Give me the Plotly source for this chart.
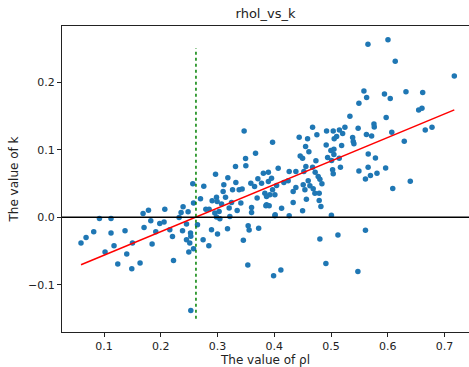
import plotly.graph_objects as go

rhol = [0.0594,0.0683,0.0818,0.0919,0.1123,0.1123,0.1018,0.1176,0.1242,0.1370,0.1400,0.1501,0.1489,0.1635,
0.1688,0.1783,0.1705,0.1824,0.1847,0.1912,0.1982,0.2058,0.2071,0.2159,0.2206,0.2224,0.2323,0.2358,0.2393,
0.2481,0.2383,0.2453,0.2453,0.2524,0.2529,0.2511,0.2494,0.2577,0.2564,0.2577,0.2529,0.2647,0.2700,0.2758,
0.2746,0.2794,0.2852,0.2894,0.2847,0.2905,0.2965,0.2982,0.2993,0.2952,0.2982,0.3028,0.3041,0.3000,0.3071,
0.3099,0.3111,0.3141,0.3176,0.3182,0.3205,0.3217,0.3247,0.3265,0.3317,0.3323,0.3346,0.3381,0.3434,0.3455,
0.3494,0.3499,0.3540,0.3557,0.3587,0.3600,0.3600,0.3653,0.3670,0.3698,0.3725,0.3776,0.3808,0.3834,0.3864,
0.3896,0.3896,0.3411,0.3469,0.3711,0.3534,0.3970,0.4675,0.4439,0.4587,0.4751,0.4922,0.5039,0.5148,0.5056,
0.4915,0.4552,0.4610,0.4499,0.4457,0.4998,0.5051,0.4940,0.4734,0.4557,0.4522,0.4675,0.4721,0.4774,0.4804,
0.4840,0.5028,0.5039,0.4381,0.4263,0.4069,0.3952,0.4169,0.4245,0.4041,0.3970,0.3922,0.4011,0.3864,0.4381,
0.4333,0.4510,0.4540,0.4598,0.4628,0.4686,0.4716,0.4792,0.4792,0.4822,0.4566,0.4333,0.4499,0.4129,0.3852,
0.3910,0.4011,0.4263,0.5007,0.5580,0.5628,0.5492,0.5942,0.6044,0.6321,0.5333,0.5972,0.5245,0.5478,0.5757,
0.5762,0.5205,0.5099,0.5381,0.5392,0.5404,0.5624,0.5716,0.6071,0.6291,0.5187,0.5051,0.5656,0.5783,0.5145,
0.5011,0.5166,0.5492,0.5654,0.5963,0.5810,0.5695,0.5607,0.6397,0.6088,0.5607,0.7173,0.5651,0.6004,0.6132,
0.6616,0.6545,0.6603,0.6661,0.6780,0.4804,0.5122,0.4910,0.5474,0.3988,0.4116,0.4016]

k = [-0.0381,-0.0298,-0.0214,-0.0018,-0.0018,-0.0233,-0.0514,-0.0421,-0.0691,-0.0199,-0.0544,-0.0381,-0.0761,-0.0677,
0.0056,0.0106,-0.0151,-0.0052,-0.0396,-0.0214,-0.0092,-0.0071,0.0121,-0.0185,-0.0284,-0.0638,-0.0003,0.0071,0.0155,
0.0081,-0.0199,-0.0100,-0.0332,-0.0233,-0.0281,-0.0381,-0.0514,-0.0465,0.0495,0.0210,-0.1377,-0.0111,0.0273,0.0461,
-0.0332,0.0121,0.0121,-0.0185,-0.0421,0.0244,0.0635,0.0298,0.0233,0.0062,0.0003,0.0086,-0.0022,-0.0248,0.0195,
0.0381,0.0480,0.0298,-0.0170,0.0586,0.0136,0.0012,0.0219,0.0406,0.0750,0.0514,0.0100,0.0406,0.0417,-0.0340,
0.0871,0.0761,-0.0126,-0.0189,0.0505,0.0145,0.0071,0.0455,0.0948,0.0284,-0.0162,0.0505,0.0653,0.0357,0.0185,
0.0529,0.0665,0.0210,0.1278,0.0569,-0.0706,0.1111,0.1332,0.1185,0.1160,0.1222,0.1278,0.1278,0.1292,0.1160,
0.1071,0.1046,0.0968,0.0874,0.0908,0.0987,0.0928,0.0883,0.0835,0.0750,0.0677,0.0742,0.0668,0.0603,0.0564,
0.0495,0.0702,0.0643,0.0677,0.0677,0.0727,0.0579,0.0514,0.0539,0.0470,0.0406,0.0332,0.0332,0.0307,0.0440,
0.0381,0.0480,0.0406,0.0539,0.0465,0.0421,0.0357,0.0357,0.0248,0.0160,0.0266,0.0219,0.0096,0.0133,0.0170,
0.0170,0.0022,0.0022,0.0030,0.1869,0.1773,0.1687,0.1824,0.1758,0.1858,0.1495,0.1477,0.1332,0.1318,0.1378,
0.1337,0.1241,0.1194,0.1179,0.1120,0.1086,0.1223,0.1204,0.1256,0.1123,0.1061,0.1007,0.0938,0.0876,0.0874,
0.0839,0.0739,0.0684,0.0742,0.0731,0.0653,0.0617,0.0566,0.0535,0.0425,-0.0192,0.2090,0.2558,0.2626,0.2307,
0.1846,0.1588,0.1613,0.1292,0.1332,-0.0322,-0.0263,-0.0682,-0.0801,-0.0864,-0.0780,0.0037]

fit_slope = 0.348
fit_intercept = -0.0908
rhol_threshold = 0.262
threshold_k_span = [-0.15, 0.25]

fit_x = [min(rhol), max(rhol)]
fit_y = [fit_slope * v + fit_intercept for v in fit_x]

fig = go.Figure()
fig.add_trace(go.Scatter(x=rhol, y=k, mode="markers",
                         marker=dict(color="#1f77b4", size=5.5, line=dict(width=0)),
                         showlegend=False, hoverinfo="skip"))
fig.add_trace(go.Scatter(x=fit_x, y=fit_y, mode="lines",
                         line=dict(color="red", width=1.5), showlegend=False))
fig.add_trace(go.Scatter(x=[rhol_threshold, rhol_threshold], y=threshold_k_span, mode="lines",
                         line=dict(color="green", width=1.5, dash="dot"), showlegend=False))
fig.add_shape(type="line", xref="paper", x0=0, x1=1, yref="y", y0=0, y1=0,
              line=dict(color="black", width=1.5), layer="above")

axis_common = dict(showgrid=False, zeroline=False, ticks="outside", ticklen=4,
                   tickcolor="#222", linecolor="#222", linewidth=1,
                   tickfont=dict(size=11, color="#222"))
fig.update_xaxes(range=[0.0259, 0.7432], tickvals=[0.1, 0.2, 0.3, 0.4, 0.5, 0.6, 0.7],
                 ticktext=["0.1", "0.2", "0.3", "0.4", "0.5", "0.6", "0.7"],
                 showline=True, mirror=True,
                 title=dict(text="The value of ρl", font=dict(size=12, color="#222"), standoff=4),
                 **axis_common)
fig.update_yaxes(range=[-0.1696, 0.2829], tickvals=[-0.1, 0.0, 0.1, 0.2],
                 ticktext=["−0.1", "0.0", "0.1", "0.2"],
                 showline=True, mirror=False,
                 title=dict(text="The value of k", font=dict(size=12, color="#222"), standoff=6),
                 **axis_common)
fig.update_layout(width=469, height=367,
                  margin=dict(l=62, r=0, t=26, b=35),
                  paper_bgcolor="white", plot_bgcolor="white",
                  font=dict(family="DejaVu Sans", color="#222"),
                  title=dict(text="rhol_vs_k", xref="paper", x=0.5, xanchor="center",
                             y=0.963, yanchor="middle",
                             font=dict(size=13, color="#222")))
fig.write_html("out.html", config={"displayModeBar": False},
               post_script="document.body.style.margin='0';document.body.style.overflow='hidden';")
